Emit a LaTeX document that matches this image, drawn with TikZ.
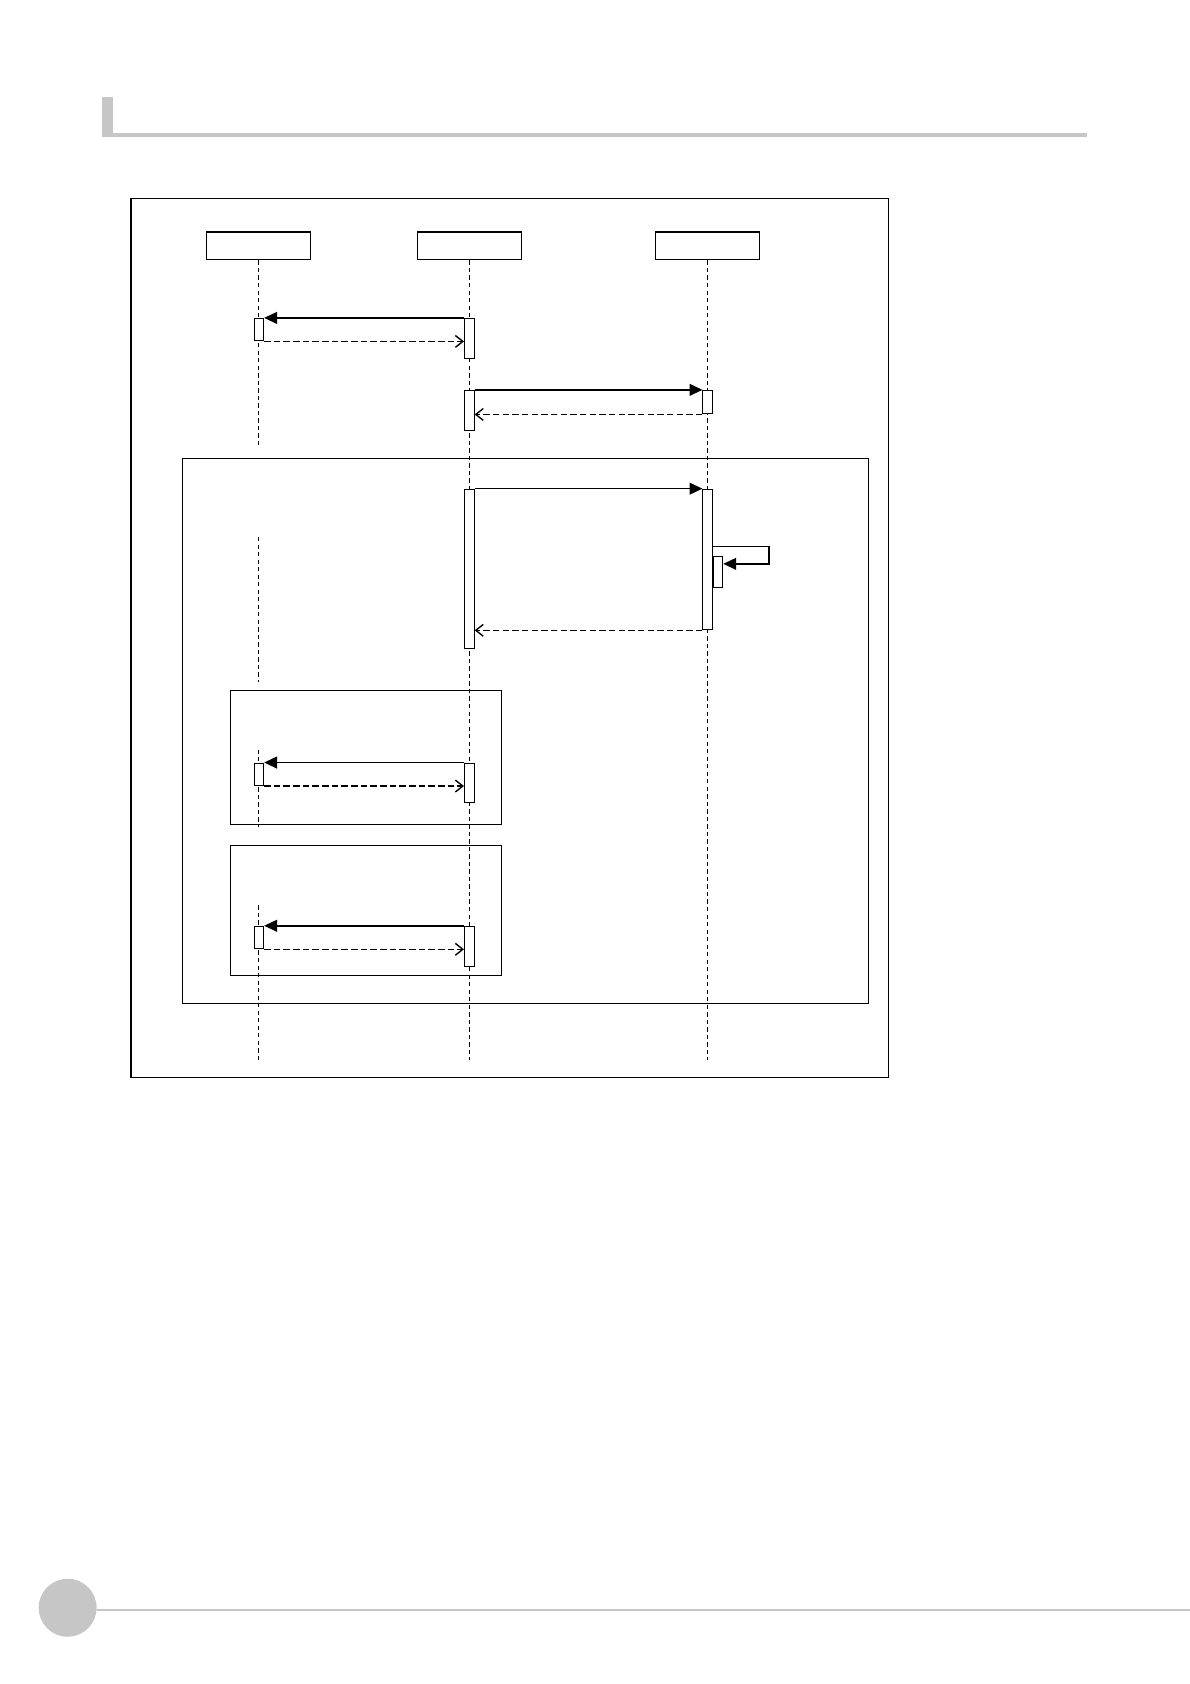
\documentclass[tikz,border=0pt]{standalone}
\usetikzlibrary{arrows.meta}
\begin{document}
\begin{tikzpicture}[x=1pt,y=-1pt,
  lf/.style={dashed,line width=0.7pt,dash pattern=on 4pt off 3pt},
  act/.style={draw,fill=white,line width=0.9pt},
  msg/.style={line width=1.4pt,-{Triangle[length=12pt,width=11pt]}},
  ret/.style={dashed,line width=1.3pt,dash pattern=on 6pt off 3pt,-{Straight Barb[length=7pt,width=11pt]}},
  frm/.style={draw,line width=1.1pt}]
\useasboundingbox (0,0) rectangle (1108,1568);
% header
\fill[gray!45] (95,90) rectangle (105,128);
\draw[gray!45,line width=4pt] (95,126) -- (1012,126);
% outer frame
\draw[frm] (122,185) rectangle (827,1003);
% heads
\node[draw,line width=1pt,minimum width=97pt,minimum height=26pt,inner sep=0] (A) at (241,229) {};
\node[draw,line width=1pt,minimum width=97pt,minimum height=26pt,inner sep=0] (B) at (437,229) {};
\node[draw,line width=1pt,minimum width=97pt,minimum height=26pt,inner sep=0] (C) at (659,229) {};
% lifelines
\coordinate (a1) at (241,987); \coordinate (b1) at (437,987); \coordinate (c1) at (659,987);
\draw[lf] (A.south) -- (241,415);
\draw[lf] (241,500) -- (241,635);
\draw[lf] (241,698) -- (241,770);
\draw[lf] (241,843) -- (a1);
\draw[lf] (B.south) -- (b1);
\draw[lf] (C.south) -- (c1);
% frames
\draw[frm] (170,427) rectangle (809,934);
\draw[frm] (215,643) rectangle (467,768);
\draw[frm] (215,787) rectangle (467,908);
% msg 1
\node[act,minimum width=9pt,minimum height=21pt,inner sep=0,anchor=north] (a2) at (241,296) {};
\node[act,minimum width=9pt,minimum height=37pt,inner sep=0,anchor=north] (b2) at (437,296) {};
\draw[msg] (b2.north west) -- (a2.north east);
\draw[ret] (a2.south east) -- (b2.west |- a2.south);
% msg 2
\node[act,minimum width=9pt,minimum height=37pt,inner sep=0,anchor=north] (b3) at (437,363) {};
\node[act,minimum width=9pt,minimum height=22pt,inner sep=0,anchor=north] (c3) at (659,363) {};
\draw[msg] (b3.north east) -- (c3.north west);
\draw[ret] (c3.south west) -- (b3.east |- c3.south);
% loop
\node[act,minimum width=9pt,minimum height=148pt,inner sep=0,anchor=north] (b4) at (437,455) {};
\node[act,minimum width=9pt,minimum height=131pt,inner sep=0,anchor=north] (c4) at (659,455) {};
\draw[msg] (b4.north east) -- (c4.north west);
\node[act,minimum width=9pt,minimum height=29pt,inner sep=0,anchor=north] (c5) at (668.5,518) {};
\coordinate (s1) at (716,509); \coordinate (s2) at (716,525);
\draw[msg] (664,509) -- (s1) -- (s2) -- (c5.east |- s2);
\draw[ret] (c4.south west) -- (b4.east |- c4.south);
% alt 1
\node[act,minimum width=9pt,minimum height=21pt,inner sep=0,anchor=north] (a6) at (241,710) {};
\node[act,minimum width=9pt,minimum height=37pt,inner sep=0,anchor=north] (b6) at (437,710) {};
\draw[msg] (b6.north west) -- (a6.north east);
\draw[ret] (a6.south east) -- (b6.west |- a6.south);
% alt 2
\node[act,minimum width=9pt,minimum height=21pt,inner sep=0,anchor=north] (a7) at (241,862) {};
\node[act,minimum width=9pt,minimum height=37pt,inner sep=0,anchor=north] (b7) at (437,862) {};
\draw[msg] (b7.north west) -- (a7.north east);
\draw[ret] (a7.south east) -- (b7.west |- a7.south);
% footer
\fill[gray!45] (63,1497) circle (27);
\draw[gray!45,line width=2pt] (90,1499) -- (1108,1499);
\end{tikzpicture}
\end{document}
